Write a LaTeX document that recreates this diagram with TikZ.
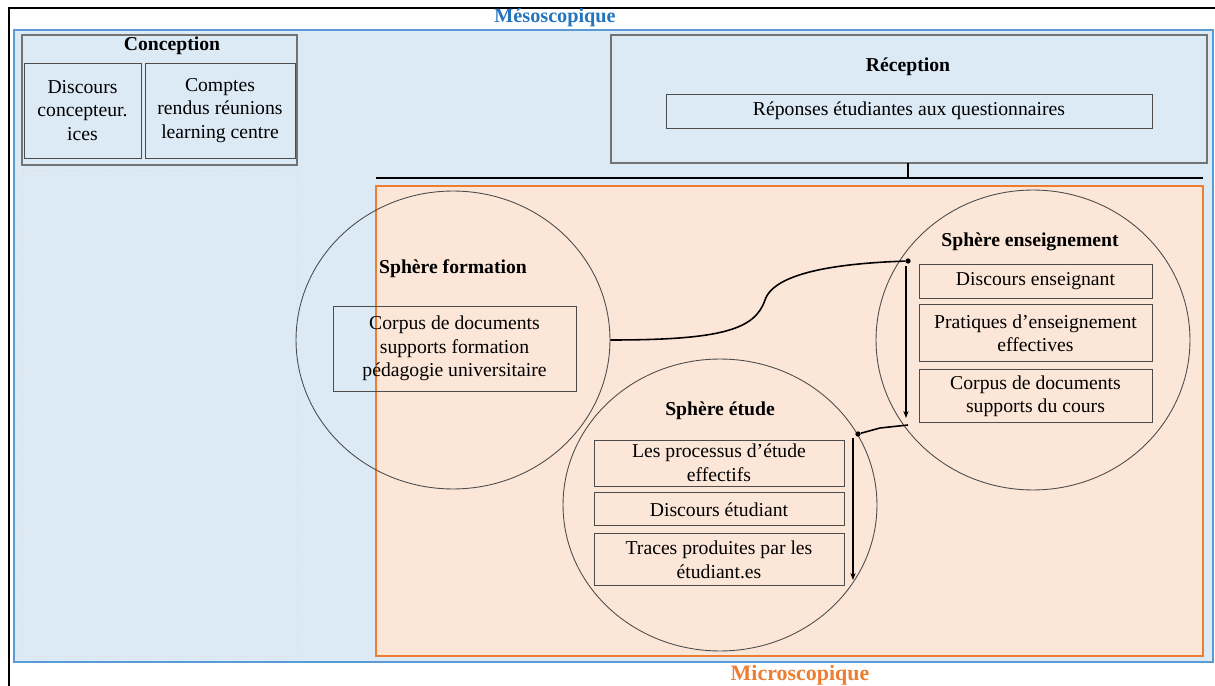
\documentclass[tikz,border=0pt]{standalone}
\usepackage{fontspec}
\setmainfont{Liberation Serif}
\usetikzlibrary{shapes.geometric,arrows.meta,positioning}

\definecolor{mesofill}{HTML}{DCEAF6}
\definecolor{mesoline}{HTML}{5B9BD5}
\definecolor{mesotext}{HTML}{2475BD}
\definecolor{microfill}{HTML}{FCE6D8}
\definecolor{microline}{HTML}{ED7D31}

\tikzset{
  box/.style={draw=black!70, line width=0.5pt, align=center, inner sep=0pt,
    font=\fontsize{11.2}{13.5}\selectfont},
  titre/.style={font=\bfseries\fontsize{11.2}{13.5}\selectfont},
  sphere/.style={draw=black!70, line width=0.5pt, ellipse, minimum width=6.28cm, minimum height=5.96cm},
  lien/.style={line width=0.9pt, -{Stealth[length=4pt,width=3pt]}},
  point/.style={circle, fill=black, inner sep=0pt, minimum size=3pt}
}

\begin{document}
\begin{tikzpicture}[x=0.02cm, y=-0.02cm]
\useasboundingbox (0,0) rectangle (1215,686);

% Cadre
\draw[line width=0.8pt] (9,686) -- (9,8) -- (1215,8);

% Niveau mesoscopique
\draw[mesoline, line width=1.6pt, fill=mesofill] (14,30) rectangle (1213,662);
\node[text=mesotext, font=\bfseries\fontsize{11.5}{13}\selectfont] (meso) at (555,18) {Mésoscopique};

% Conception
\draw[black!55, line width=0.6pt] (22,35) rectangle (297,165);
\draw[black!12, dashed] (22,170) rectangle (297,656);
\node[titre] (conc) at (172,46) {Conception};
\node[box, minimum width=2.34cm, minimum height=1.9cm] (disc) at (82.5,110.5) {Discours\\concepteur.\\ices};
\node[box, minimum width=3.0cm, minimum height=1.9cm] (cr) at (220,110.5) {Comptes\\rendus réunions\\learning centre};

% Reception
\draw[black!55, line width=0.6pt] (611,35) rectangle (1207,163);
\node[titre] (recep) at (908,67) {Réception};
\node[box, minimum width=9.72cm, minimum height=0.68cm] (rep) at (909,111) {Réponses étudiantes aux questionnaires};
\coordinate (barre) at (908,178);
\draw[line width=1.4pt] (376,178) -- (1203,178);
\draw[line width=1.2pt] (908,163) -- (barre);

% Niveau microscopique
\draw[microline, line width=1.6pt, fill=microfill] (376,186) rectangle (1203,656);
\node[text=microline, font=\bfseries\fontsize{12.5}{14}\selectfont] (micro) at (800,675) {Microscopique};

% Spheres
\node[sphere] (form) at (453,340) {};
\node[sphere, minimum height=6.0cm] (ens) at (1033,340) {};
\node[sphere, minimum height=5.84cm] (etu) at (720,505) {};

% Sphere formation
\node[titre] (tform) at (453,269) {Sphère formation};
\node[box, minimum width=4.86cm, minimum height=1.7cm] (corpf) at (454.5,348.5) {Corpus de documents\\supports formation\\pédagogie universitaire};

% Sphere enseignement
\node[titre] (tens) at (1030,242) {Sphère enseignement};
\node[box, minimum width=4.66cm, minimum height=0.68cm] (ens1) at (1035.5,281) {Discours enseignant};
\node[box, minimum width=4.66cm, minimum height=1.14cm, below=0.12cm of ens1] (ens2) {Pratiques d’enseignement\\effectives};
\node[box, minimum width=4.66cm, minimum height=1.06cm, below=0.14cm of ens2] (ens3) {Corpus de documents\\supports du cours};

% Sphere etude
\node[titre] (tetu) at (720,411) {Sphère étude};
\node[box, minimum width=5.0cm, minimum height=0.92cm] (etu1) at (719,463) {Les processus d’étude\\effectifs};
\node[box, minimum width=5.0cm, minimum height=0.66cm, below=0.12cm of etu1] (etu2) {Discours étudiant};
\node[box, minimum width=5.0cm, minimum height=1.04cm, below=0.14cm of etu2] (etu3) {Traces produites par les\\étudiant.es};

% Liens
\coordinate (a1) at (906,266);
\coordinate (a2) at (906,418);
\coordinate (b1) at (853,438);
\coordinate (b2) at (853,580);
\node[point] (p1) at (908,261) {};
\node[point] (p2) at (858,434) {};
\draw[line width=0.9pt] (form.east) .. controls (720,340) and (755,330) .. (765,300)
  .. controls (775,270) and (850,263) .. (p1);
\draw[lien] (a1) -- (a2);
\draw[line width=0.9pt] (908,425) -- (880,428) -- (p2);
\draw[lien] (b1) -- (b2);
\end{tikzpicture}
\end{document}
